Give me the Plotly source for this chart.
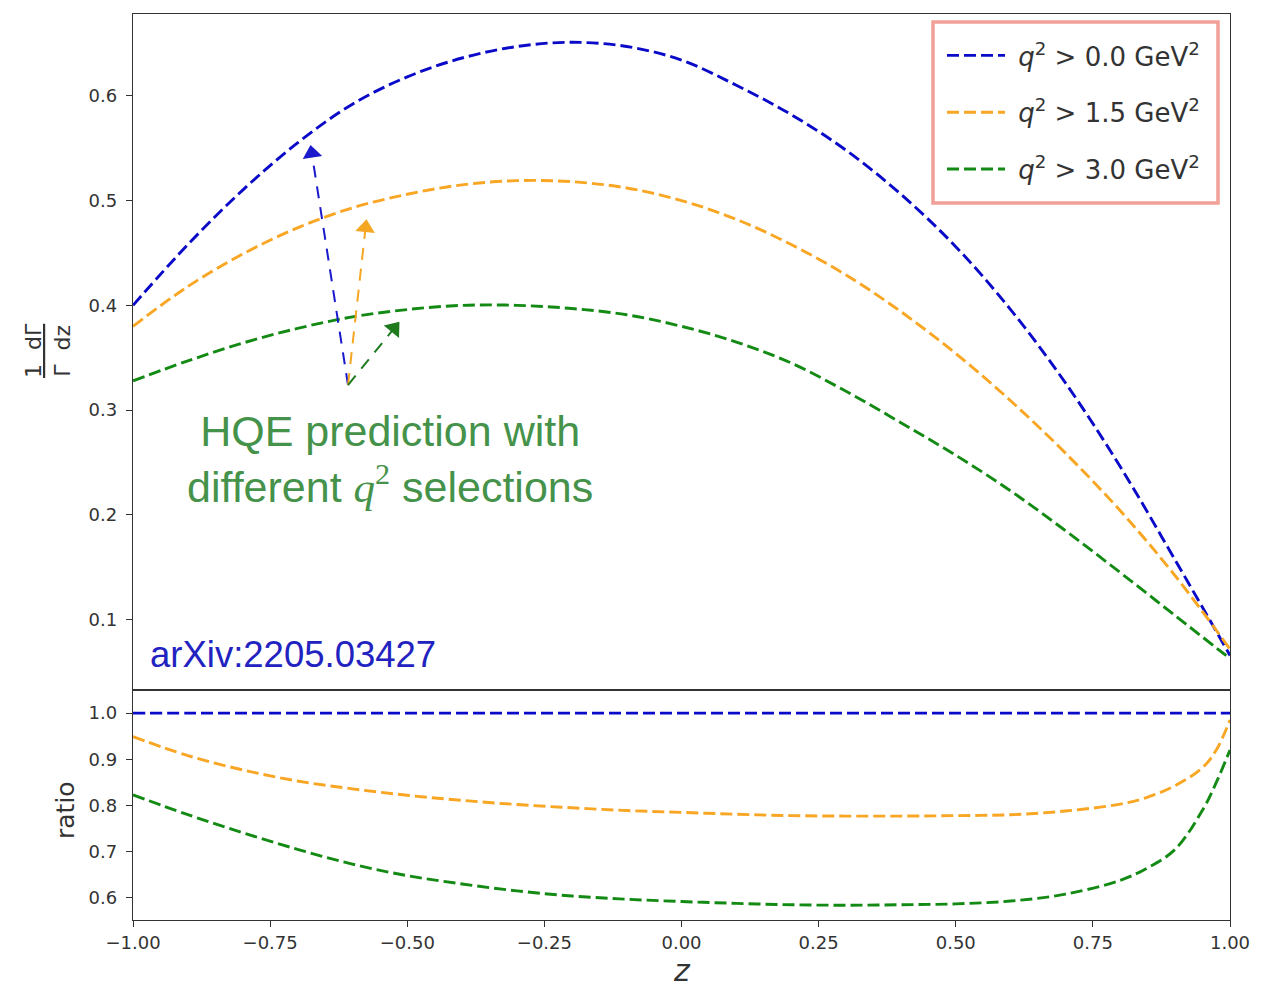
import plotly.graph_objects as go

# ---------------- data ----------------
z = [-1.0, -0.9, -0.8, -0.7, -0.6, -0.5, -0.4, -0.3, -0.2, -0.1, 0.0,
     0.1, 0.2, 0.3, 0.4, 0.5, 0.6, 0.7, 0.8, 0.9, 1.0]
rate_q0 = [0.400, 0.458, 0.510, 0.555, 0.592, 0.618, 0.636, 0.647, 0.651, 0.647, 0.634,
           0.610, 0.582, 0.548, 0.506, 0.456, 0.396, 0.326, 0.246, 0.157, 0.066]
rate_q15 = [0.380, 0.418, 0.449, 0.474, 0.493, 0.506, 0.515, 0.519, 0.518, 0.512, 0.500,
            0.482, 0.458, 0.429, 0.394, 0.354, 0.309, 0.259, 0.204, 0.142, 0.072]
rate_q30 = [0.328, 0.347, 0.364, 0.378, 0.389, 0.396, 0.400, 0.400, 0.397, 0.391, 0.380,
            0.365, 0.345, 0.318, 0.288, 0.257, 0.223, 0.185, 0.145, 0.104, 0.063]

z_ratio = [-1.0, -0.9, -0.8, -0.7, -0.6, -0.5, -0.4, -0.3, -0.2, -0.1, 0.0,
           0.1, 0.2, 0.3, 0.4, 0.5, 0.6, 0.7, 0.8, 0.85, 0.9, 0.95, 0.975, 1.0]
ratio_q0 = [1.0] * len(z_ratio)
ratio_q15 = [0.949, 0.908, 0.877, 0.853, 0.836, 0.822, 0.811, 0.802, 0.795, 0.789, 0.785,
             0.781, 0.778, 0.777, 0.777, 0.778, 0.780, 0.788, 0.803, 0.818, 0.843, 0.882, 0.920, 0.985]
ratio_q30 = [0.823, 0.780, 0.741, 0.705, 0.673, 0.648, 0.630, 0.615, 0.604, 0.597, 0.592,
             0.588, 0.585, 0.584, 0.585, 0.587, 0.593, 0.608, 0.638, 0.665, 0.705, 0.790, 0.850, 0.920]

labels = ["\u00a0<i>q</i><sup>2</sup> > 0.0 GeV<sup>2</sup>",
          "\u00a0<i>q</i><sup>2</sup> > 1.5 GeV<sup>2</sup>",
          "\u00a0<i>q</i><sup>2</sup> > 3.0 GeV<sup>2</sup>"]
colors = ["#0a0ac8", "#f8a623", "#138a13"]

# ---------------- figure ----------------
fig = go.Figure()
DASH = "12px,5px"
for i, (rates, lab, col) in enumerate(zip([rate_q0, rate_q15, rate_q30], labels, colors)):
    fig.add_trace(go.Scatter(x=z, y=rates, mode="lines", name=lab, legendgroup=f"g{i}",
                             line=dict(color=col, width=2.9, dash=DASH, shape="spline"),
                             xaxis="x", yaxis="y"))
for rat, col in zip([ratio_q0, ratio_q15, ratio_q30], colors):
    fig.add_trace(go.Scatter(x=z_ratio, y=rat, mode="lines", showlegend=False,
                             line=dict(color=col, width=2.9, dash=DASH, shape="spline"),
                             xaxis="x2", yaxis="y2"))

# dashed annotation arrows (tail -> head)
arrow_tail = (-0.608, 0.324)
arrow_heads = [(-0.674, 0.545), (-0.576, 0.474), (-0.524, 0.378)]
arrow_cols = ["#1a1acc", "#f5a623", "#1d7a1d"]
for (hx, hy), col in zip(arrow_heads, arrow_cols):
    fig.add_trace(go.Scatter(x=[arrow_tail[0], hx], y=[arrow_tail[1], hy],
                             mode="lines+markers", showlegend=False, hoverinfo="skip",
                             line=dict(color=col, width=2, dash="12px,9px"),
                             marker=dict(symbol="triangle-up", size=[0, 17], color=col,
                                         opacity=1, angleref="previous", line=dict(width=0)),
                             xaxis="x", yaxis="y"))

split = (920 - 690) / 906
axis_common = dict(showline=True, linecolor="#333333", linewidth=1.3, mirror=True,
                   ticklen=6, tickwidth=1.2, tickcolor="#333333",
                   showgrid=False, zeroline=False,
                   tickfont=dict(family="DejaVu Sans", size=18, color="#333333"))

fig.update_layout(
    width=1264, height=979,
    margin=dict(l=125, r=42, t=6, b=67, autoexpand=False),
    paper_bgcolor="white", plot_bgcolor="white",
    xaxis=dict(domain=[0, 1], range=[-1, 1], anchor="y", showticklabels=False,
               ticks="", **axis_common),
    yaxis=dict(domain=[split, 1], range=[0.033, 0.678], anchor="x", ticks="outside",
               ticklabelstandoff=5,
               tickvals=[0.1, 0.2, 0.3, 0.4, 0.5, 0.6], tickformat=".1f", **axis_common),
    xaxis2=dict(domain=[0, 1], range=[-1, 1], anchor="y2", ticks="outside",
                tickvals=[-1, -0.75, -0.5, -0.25, 0, 0.25, 0.5, 0.75, 1], tickformat=".2f",
                **axis_common),
    yaxis2=dict(domain=[0, split], range=[0.552, 1.05], anchor="x2", ticks="outside",
                ticklabelstandoff=5,
                tickvals=[0.6, 0.7, 0.8, 0.9, 1.0], tickformat=".1f", **axis_common),
    legend=dict(x=(942 - 133) / 1097, y=(920 - 32) / 906, xanchor="left", yanchor="top",
                bgcolor="rgba(0,0,0,0)", borderwidth=0,
                font=dict(family="DejaVu Sans", size=26, color="#333333"),
                itemwidth=58, tracegroupgap=20),
    showlegend=True,
)

# legend frame (salmon box)
fig.add_shape(type="rect", xref="paper", yref="paper",
              x0=(933 - 133) / 1097, x1=(1218 - 133) / 1097,
              y0=(920 - 203) / 906, y1=(920 - 22) / 906,
              line=dict(color="#f2a198", width=3.5), fillcolor="white", layer="above")

fig.add_annotation(x=-0.531, y=0.2533, xref="x", yref="y", showarrow=False,
                   text="HQE prediction with<br>different <span style='font-family:Liberation Serif'><i>q</i><sup>2</sup></span> selections",
                   font=dict(family="Liberation Sans", size=43, color="#45924a"),
                   align="center", xanchor="center", yanchor="middle")
fig.add_annotation(x=-0.9727, y=0.067, xref="x", yref="y", showarrow=False,
                   xanchor="left", yanchor="middle", text="arXiv:2205.03427",
                   font=dict(family="Liberation Sans", size=36.5, color="#2222c0"))
fig.add_annotation(x=(48 - 133) / 1097, y=(920 - 351) / 906, xref="paper", yref="paper",
                   showarrow=False, textangle=-90, xanchor="center", yanchor="middle",
                   text="<span style='text-decoration:underline'>1  dΓ</span><br>Γ  dz",
                   font=dict(family="DejaVu Sans", size=22, color="#333333"))
fig.add_annotation(x=(65 - 133) / 1097, y=(920 - 810) / 906, xref="paper", yref="paper",
                   showarrow=False, textangle=-90, text="ratio", xanchor="center",
                   yanchor="middle",
                   font=dict(family="DejaVu Sans", size=25, color="#333333"))
fig.add_annotation(x=(682 - 133) / 1097, y=(920 - 970) / 906, xref="paper", yref="paper",
                   showarrow=False, xanchor="center", yanchor="middle", text="<i>z</i>",
                   font=dict(family="DejaVu Sans", size=30, color="#333333"))

fig.write_html("out.html")
